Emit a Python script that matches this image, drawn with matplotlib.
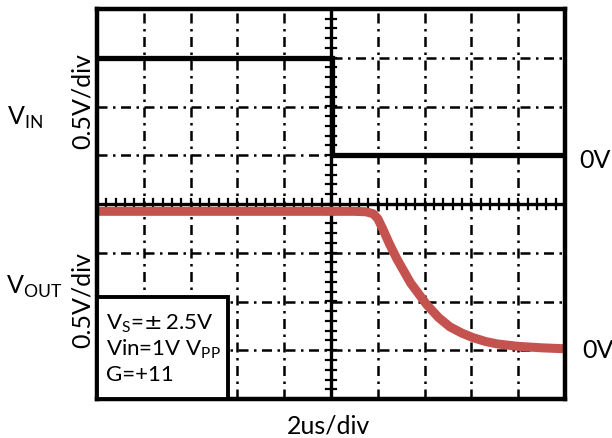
import numpy as np
import matplotlib
matplotlib.use("Agg")
import matplotlib.pyplot as plt

# scope traces, in divisions (x: 0..10, y: -4..4)
vin_x = [0.0, 5.02, 5.02, 10.0]
vin_y = [3.0, 3.0, 1.0, 1.0]

vout_x = [0.0, 2.0, 4.0, 5.5, 5.75, 5.9, 6.0, 6.1, 6.25, 6.41, 6.7, 7.05, 7.3, 7.54, 7.8, 8.03, 8.3, 8.55, 9.0, 9.5, 10.0]
vout_y = [-0.15, -0.15, -0.15, -0.15, -0.16, -0.2, -0.3, -0.5, -0.82, -1.13, -1.62, -2.07, -2.33, -2.52, -2.65, -2.74, -2.82, -2.87, -2.92, -2.95, -2.97]

x_divs = 10
y_divs = 8

plt.rcParams["font.family"] = ["Lato", "DejaVu Sans"]

W, H = 612, 439
fig = plt.figure(figsize=(W / 100, H / 100), dpi=100)
ax = fig.add_axes([97 / W, 1 - 400 / H, 468 / W, 390 / H])
ax.set_xlim(0, x_divs)
ax.set_ylim(-y_divs / 2, y_divs / 2)
ax.set_xticks([])
ax.set_yticks([])
for sp in ax.spines.values():
    sp.set_linewidth(3.2)
    sp.set_color("black")

dashdot = (0, (4, 2.2, 1, 2.2))
for gx in range(1, x_divs):
    if gx == x_divs // 2:
        continue
    ax.axvline(gx, color="black", lw=1.8, ls=dashdot)
for gy in range(-y_divs // 2 + 1, y_divs // 2):
    if gy == 0:
        continue
    ax.axhline(gy, color="black", lw=1.8, ls=dashdot)

# center cross with minor ticks
ax.axvline(5, color="black", lw=2.4)
ax.axhline(0, color="black", lw=2.4)
for t in np.arange(0.2, x_divs, 0.2):
    ax.plot([t, t], [-0.11, 0.11], color="black", lw=1.6)
for t in np.arange(-y_divs / 2 + 0.2, y_divs / 2, 0.2):
    ax.plot([4.9, 5.1], [t, t], color="black", lw=1.6)

ax.plot(vin_x, vin_y, color="black", lw=3.8, solid_joinstyle="miter")
ax.plot(vout_x, vout_y, color="#c4524e", lw=6.5, solid_capstyle="round")

def px(x, y):
    return x / W, 1 - y / H

fs = 18
fig.text(*px(82, 101), "0.5V/div", rotation=90, ha="center", va="center", fontsize=fs)
fig.text(*px(82, 300), "0.5V/div", rotation=90, ha="center", va="center", fontsize=fs)
fig.text(*px(7, 118), r"V$_{\mathregular{IN}}$", ha="left", va="center", fontsize=fs)
fig.text(*px(6, 287), r"V$_{\mathregular{OUT}}$", ha="left", va="center", fontsize=fs)
fig.text(*px(579, 161), "0V", ha="left", va="center", fontsize=fs)
fig.text(*px(582, 351), "0V", ha="left", va="center", fontsize=fs)
fig.text(*px(329, 426), "2us/div", ha="center", va="center", fontsize=fs)

# info box
box = plt.Rectangle((0, -4), (228 - 97) / 46.8, (400 - 298) / 48.75, transform=ax.transData,
                    facecolor="white", edgecolor="black", lw=2.8, zorder=5)
ax.add_patch(box)
bfs = 16
fig.text(*px(106, 324), r"V$_{\mathregular{S}}$=$\pm\,$2.5V", ha="left", va="center", fontsize=bfs, zorder=6)
fig.text(*px(106, 349), r"Vin=1V V$_{\mathregular{PP}}$", ha="left", va="center", fontsize=bfs, zorder=6)
fig.text(*px(106, 375), "G=+11", ha="left", va="center", fontsize=bfs, zorder=6)

fig.savefig("out.png", dpi=100)
